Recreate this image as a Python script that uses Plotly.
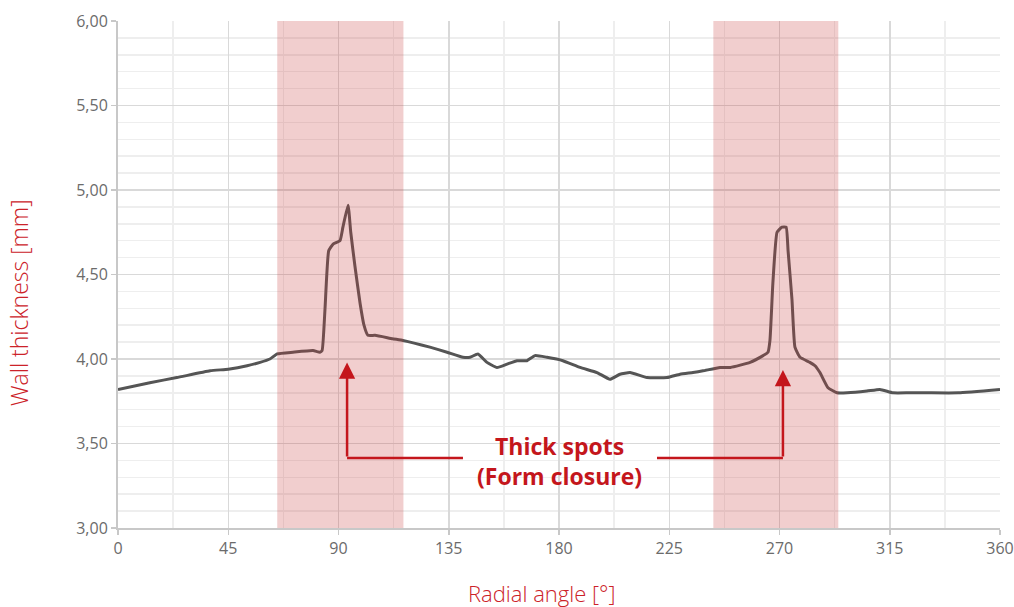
import plotly.graph_objects as go

# Measured wall thickness profile
angle_deg = [0, 13, 24, 37.6, 45, 52.7, 58, 62, 65, 71.4, 79.6, 82.4, 83.3, 84.5, 86.0,
             87.8, 90.6, 91.8, 93.9, 95, 96.7, 98.8, 100.4, 102, 104.9, 112, 116.3,
             127.3, 134.3, 140.8, 143.7, 146.9, 150.6, 154.7, 158.8, 162.9, 166.9,
             170.2, 175.1, 181.6, 188.6, 195.5, 200.8, 204.9, 209, 215.9, 224.1,
             229.4, 234.7, 238.8, 245.7, 250, 258, 263.3, 265.3, 266.1, 267.3, 269,
             271, 272.7, 273.5, 275.1, 276.3, 278.4, 282.4, 284.5, 286.5, 289.8,
             293.5, 297.6, 305.7, 311, 316.3, 323, 330, 343, 360]
thickness_mm = [3.82, 3.86, 3.89, 3.93, 3.94, 3.96, 3.98, 4.00, 4.03, 4.04, 4.05, 4.04, 4.05,
                4.30, 4.64, 4.68, 4.70, 4.78, 4.91, 4.75, 4.55, 4.33, 4.20, 4.14, 4.14,
                4.12, 4.11, 4.07, 4.04, 4.01, 4.01, 4.03, 3.98, 3.95, 3.97, 3.99, 3.99,
                4.02, 4.01, 3.99, 3.95, 3.92, 3.88, 3.91, 3.92, 3.89, 3.89, 3.91, 3.92,
                3.93, 3.95, 3.95, 3.98, 4.02, 4.04, 4.11, 4.45, 4.75, 4.78, 4.78, 4.64,
                4.35, 4.07, 4.01, 3.98, 3.96, 3.92, 3.83, 3.80, 3.80, 3.81, 3.82, 3.80,
                3.80, 3.80, 3.80, 3.82]

# Highlighted zones (thick spots)
zone_start = [65, 243]
zone_end = [116.5, 294]

# Annotation arrows: x of arrow, tip y, elbow y, text-side x
arrow_x = [93.5, 271.4]
arrow_tip_y = [3.98, 3.935]
arrow_elbow_y = 3.414
arrow_text_x = [140.8, 220.0]
label_text = "Thick spots<br>(Form closure)"
label_y = 3.396

x_ticks = [0, 45, 90, 135, 180, 225, 270, 315, 360]
y_ticks = [3.0, 3.5, 4.0, 4.5, 5.0, 5.5, 6.0]

red = "#c4161c"
title_red = "#cc2229"
tick_font = dict(family="Open Sans", size=16, color="#6b6b6b")

fig = go.Figure()
fig.add_trace(go.Scatter(
    x=angle_deg, y=thickness_mm, mode="lines",
    line=dict(color="#555555", width=3, shape="spline", smoothing=0.4),
    hoverinfo="skip", showlegend=False))

shapes = []
for x0, x1 in zip(zone_start, zone_end):
    shapes.append(dict(type="rect", xref="x", yref="y", x0=x0, x1=x1, y0=3, y1=6,
                       fillcolor="rgba(200,60,60,0.25)", line=dict(width=0), layer="above"))
for ax_, tx in zip(arrow_x, arrow_text_x):
    shapes.append(dict(type="line", xref="x", yref="y", x0=ax_, x1=tx,
                       y0=arrow_elbow_y, y1=arrow_elbow_y,
                       line=dict(color=red, width=2.5), layer="above"))

annotations = []
for ax_, ty in zip(arrow_x, arrow_tip_y):
    annotations.append(dict(x=ax_, y=ty, xref="x", yref="y", axref="x", ayref="y",
                            ax=ax_, ay=arrow_elbow_y, text="", showarrow=True,
                            arrowhead=2, arrowsize=1.3, arrowwidth=2.5, arrowcolor=red))
annotations.append(dict(x=(arrow_text_x[0] + arrow_text_x[1]) / 2, y=label_y,
                        xref="x", yref="y", showarrow=False, text=f"<b>{label_text}</b>",
                        xanchor="center", yanchor="middle", align="center",
                        font=dict(family="Open Sans", size=23, color=red)))
# Axis titles (placed relative to the plot area)
annotations.append(dict(x=(541 - 118) / 882, y=-(593 - 528) / 507,
                        xref="x domain", yref="y domain", showarrow=False,
                        xanchor="center", yanchor="middle", text="Radial angle [°]",
                        font=dict(family="Open Sans", size=22, color=title_red, weight=300)))
annotations.append(dict(x=-(118 - 19) / 882, y=(528 - 303) / 507,
                        xref="x domain", yref="y domain", showarrow=False,
                        xanchor="center", yanchor="middle", textangle=-90,
                        text="Wall thickness [mm]",
                        font=dict(family="Open Sans", size=23, color=title_red, weight=300)))

axis_common = dict(showgrid=True, gridcolor="#d9d9d9", gridwidth=1.5,
                   showline=True, linecolor="#c8c8c8", linewidth=2, zeroline=False,
                   ticks="outside", ticklen=5, tickcolor="#c8c8c8", tickwidth=1.5,
                   tickfont=tick_font, automargin=False)

fig.update_layout(
    width=1014, height=607,
    margin=dict(l=118, r=14, t=21, b=79),
    paper_bgcolor="white", plot_bgcolor="white",
    separators=",.",
    shapes=shapes, annotations=annotations,
    xaxis=dict(range=[0, 360], tickvals=x_ticks,
               minor=dict(dtick=22.5, tick0=0, showgrid=True, gridcolor="#eeeeee", gridwidth=1.5),
               **axis_common),
    yaxis=dict(range=[3, 6], tickvals=y_ticks, tickformat=".2f",
               minor=dict(dtick=0.1, tick0=3, showgrid=True, gridcolor="#eeeeee", gridwidth=1.5),
               **axis_common),
)

fig.write_html("out.html", config={"displayModeBar": False, "staticPlot": True},
               post_script="document.body.style.margin='0';document.body.style.overflow='hidden';")
